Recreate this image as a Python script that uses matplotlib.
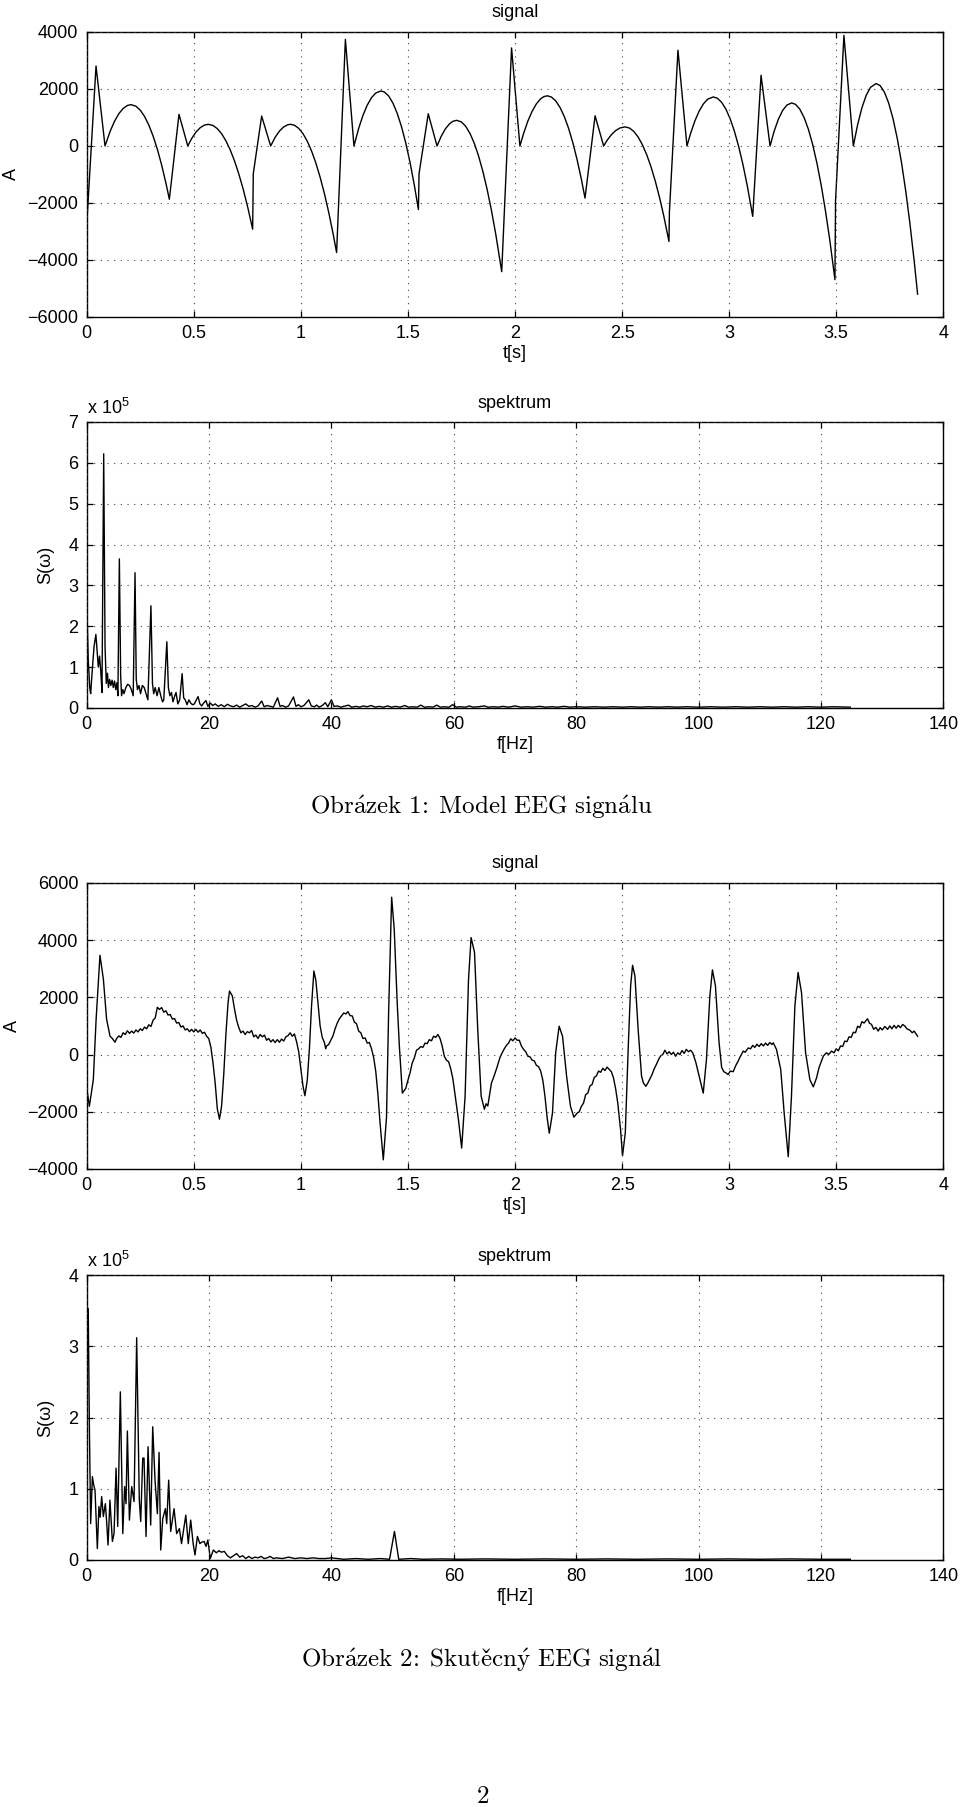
import numpy as np
import matplotlib
matplotlib.use('Agg')
import matplotlib.pyplot as plt

plt.rcParams['font.family'] = ['Liberation Sans', 'DejaVu Sans']
plt.rcParams['mathtext.fontset'] = 'custom'
plt.rcParams['mathtext.rm'] = 'Liberation Sans'
plt.rcParams['font.size'] = 13

# ---- model EEG signal: (t [s], A) ----
model_signal = [
    (0.000, -2780), (0.0436, 2807), (0.0856, 0),
    (0.11, 525), (0.13, 867), (0.15, 1131), (0.17, 1315), (0.19, 1422), (0.207, 1450),
    (0.23, 1395), (0.25, 1258), (0.27, 1039), (0.29, 736), (0.31, 351), (0.33, -117),
    (0.35, -668), (0.37, -1302), (0.386, -1870),
    (0.431, 1110), (0.472, 0),
    (0.49, 258), (0.51, 483), (0.53, 641), (0.55, 733), (0.568, 760),
    (0.59, 718), (0.61, 608), (0.63, 430), (0.65, 182), (0.67, -134), (0.69, -517),
    (0.71, -973), (0.73, -1494), (0.75, -2085), (0.775, -2920), (0.778, -970),
    (0.817, 1050), (0.859, 0),
    (0.88, 305), (0.90, 522), (0.92, 670), (0.94, 747), (0.952, 760),
    (0.97, 728), (0.99, 619), (1.01, 432), (1.03, 168), (1.05, -175), (1.07, -595),
    (1.09, -1094), (1.11, -1670), (1.13, -2324), (1.15, -3056), (1.167, -3740),
    (1.208, 3740), (1.248, 0),
    (1.27, 615), (1.29, 1073), (1.31, 1432), (1.33, 1695), (1.35, 1860), (1.374, 1930),
    (1.39, 1895), (1.41, 1754), (1.43, 1504), (1.45, 1145), (1.47, 678), (1.49, 103),
    (1.51, -583), (1.53, -1377), (1.549, -2230), (1.552, -970),
    (1.595, 1130), (1.636, 0),
    (1.655, 333), (1.675, 601), (1.695, 784), (1.71, 866), (1.728, 900),
    (1.75, 842), (1.77, 688), (1.79, 437), (1.81, 92), (1.83, -353), (1.85, -892),
    (1.87, -1528), (1.89, -2260), (1.91, -3088), (1.938, -4410),
    (1.984, 3440), (2.023, 0),
    (2.04, 436), (2.06, 871), (2.08, 1218), (2.10, 1480), (2.12, 1657), (2.135, 1733),
    (2.151, 1760), (2.17, 1718), (2.19, 1584), (2.21, 1356), (2.23, 1037), (2.25, 624),
    (2.27, 119), (2.29, -480), (2.31, -1170), (2.327, -1830),
    (2.374, 1060), (2.414, 0),
    (2.43, 197), (2.45, 395), (2.47, 540), (2.49, 631), (2.514, 670),
    (2.535, 628), (2.555, 509), (2.575, 314), (2.595, 42), (2.615, -306), (2.635, -729),
    (2.655, -1232), (2.675, -1810), (2.695, -2465), (2.719, -3350), (2.721, -2330),
    (2.761, 3360), (2.803, 0),
    (2.82, 442), (2.84, 879), (2.86, 1225), (2.88, 1479), (2.90, 1643), (2.926, 1720),
    (2.945, 1675), (2.965, 1532), (2.985, 1289), (3.005, 948), (3.025, 507), (3.045, -33),
    (3.065, -671), (3.085, -1410), (3.110, -2470),
    (3.149, 2480), (3.191, 0),
    (3.21, 515), (3.23, 941), (3.25, 1249), (3.27, 1438), (3.292, 1510),
    (3.31, 1461), (3.33, 1291), (3.35, 999), (3.37, 586), (3.39, 53), (3.41, -604),
    (3.43, -1385), (3.45, -2284), (3.47, -3304), (3.494, -4690), (3.497, -1900),
    (3.536, 3880), (3.580, 0),
    (3.60, 749), (3.62, 1340), (3.64, 1778), (3.66, 2058), (3.686, 2190),
    (3.705, 2119), (3.725, 1891), (3.745, 1506), (3.765, 965), (3.785, 266), (3.805, -589),
    (3.825, -1600), (3.845, -2776), (3.865, -4100), (3.880, -5200),
]

# ---- model spectrum: (f [Hz], S in 1e5) ----
model_spectrum = [
    (0.0, 2.64), (0.25, 1.2), (0.5, 0.5), (0.65, 0.35), (0.9, 0.9), (1.2, 1.5), (1.5, 1.8),
    (1.75, 1.3), (1.9, 1.0), (2.1, 1.27), (2.3, 0.9), (2.5, 0.38), (2.78, 6.22), (3.0, 1.5),
    (3.2, 0.6), (3.4, 0.85), (3.55, 0.5), (3.75, 0.7), (3.95, 0.55), (4.15, 0.68), (4.35, 0.5),
    (4.55, 0.66), (4.75, 0.45), (4.95, 0.62), (5.1, 0.3), (5.34, 3.65), (5.55, 0.8), (5.7, 0.3),
    (5.9, 0.45), (6.1, 0.35), (6.4, 0.5), (6.7, 0.58), (7.0, 0.55), (7.3, 0.45), (7.6, 0.3),
    (7.9, 3.31), (8.1, 0.7), (8.3, 0.45), (8.55, 0.55), (8.8, 0.35), (9.1, 0.55), (9.4, 0.5),
    (9.7, 0.35), (10.0, 0.2), (10.5, 2.5), (10.75, 0.6), (10.95, 0.35), (11.2, 0.5), (11.5, 0.3),
    (11.8, 0.5), (12.1, 0.3), (12.4, 0.15), (12.6, 0.2), (13.1, 1.62), (13.35, 0.5), (13.6, 0.3),
    (13.85, 0.38), (14.1, 0.15), (14.4, 0.3), (14.6, 0.38), (14.9, 0.1), (15.2, 0.2), (15.6, 0.84),
    (15.85, 0.25), (16.1, 0.2), (16.4, 0.08), (16.7, 0.2), (17.0, 0.12), (17.3, 0.08), (17.6, 0.1),
    (18.2, 0.28), (18.5, 0.1), (18.8, 0.05), (19.1, 0.12), (19.5, 0.18), (19.8, 0.04), (20.2, 0.12),
    (20.6, 0.06), (21.0, 0.1), (21.5, 0.04), (22.0, 0.08), (22.5, 0.03), (23.0, 0.09), (23.5, 0.05),
    (24.0, 0.03), (24.5, 0.07), (25.0, 0.02), (25.5, 0.06), (26.0, 0.1), (26.5, 0.04), (27.0, 0.06),
    (27.5, 0.02), (28.0, 0.05), (28.6, 0.17), (29.0, 0.03), (29.5, 0.06), (30.0, 0.04), (30.5, 0.02),
    (31.2, 0.25), (31.6, 0.04), (32.0, 0.06), (32.5, 0.02), (33.0, 0.05), (33.8, 0.27), (34.2, 0.04),
    (34.6, 0.08), (35.0, 0.03), (35.5, 0.06), (36.3, 0.2), (36.7, 0.05), (37.2, 0.03), (37.6, 0.07),
    (38.0, 0.02), (38.5, 0.06), (39.0, 0.13), (39.4, 0.03), (40.0, 0.2), (40.4, 0.04), (41.0, 0.05),
    (41.5, 0.02), (42.0, 0.04), (42.8, 0.07), (43.3, 0.02), (44.0, 0.04), (44.6, 0.02), (45.2, 0.05),
    (45.8, 0.03), (46.5, 0.06), (47.2, 0.02), (47.8, 0.04), (48.5, 0.02), (49.2, 0.05), (49.8, 0.02),
    (50.5, 0.04), (51.2, 0.02), (52.0, 0.06), (52.6, 0.02), (53.3, 0.03), (54.0, 0.02), (54.6, 0.07),
    (55.2, 0.02), (56.0, 0.03), (56.6, 0.02), (57.2, 0.07), (57.8, 0.02), (58.5, 0.03), (59.2, 0.02),
    (59.8, 0.08), (60.4, 0.02), (61.0, 0.03), (62.0, 0.02), (62.5, 0.05), (63.2, 0.02), (64.0, 0.03),
    (65.0, 0.05), (65.6, 0.02), (66.5, 0.03), (67.3, 0.02), (68.0, 0.04), (69.0, 0.02), (70.0, 0.05),
    (71.0, 0.02), (72.0, 0.03), (73.0, 0.02), (74.0, 0.04), (75.0, 0.02), (76.0, 0.03), (77.0, 0.02),
    (78.0, 0.04), (79.0, 0.02), (80.0, 0.03), (81.5, 0.02), (83.0, 0.03), (84.5, 0.02), (86.0, 0.03),
    (87.5, 0.02), (89.0, 0.03), (90.5, 0.02), (92.0, 0.03), (93.5, 0.02), (95.0, 0.03), (96.5, 0.02),
    (98.0, 0.03), (100.0, 0.02), (102.0, 0.03), (104.0, 0.02), (106.0, 0.03), (108.0, 0.02),
    (110.0, 0.03), (112.0, 0.02), (114.0, 0.03), (116.0, 0.02), (118.0, 0.03), (120.0, 0.02),
    (122.0, 0.03), (124.8, 0.02),
]

# ---- real EEG signal: (t [s], A) ----
real_signal = [
    (0.000, -1170), (0.0125, -1810), (0.031, -880), (0.044, 1230), (0.062, 3470), (0.078, 2630),
    (0.093, 1230), (0.109, 640), (0.120, 560), (0.132, 430),
    (0.14, 560), (0.15, 650), (0.16, 600), (0.17, 760), (0.18, 700), (0.19, 830), (0.20, 740),
    (0.21, 820), (0.22, 750), (0.23, 860), (0.24, 790), (0.25, 900), (0.26, 840), (0.27, 960),
    (0.28, 900), (0.29, 1040), (0.30, 980), (0.31, 1200), (0.32, 1280), (0.33, 1650), (0.34, 1580),
    (0.35, 1640), (0.36, 1480), (0.37, 1530), (0.38, 1380), (0.39, 1400), (0.40, 1240), (0.41, 1260),
    (0.42, 1100), (0.43, 1120), (0.44, 960), (0.45, 1000), (0.46, 860), (0.47, 900), (0.48, 800),
    (0.49, 880), (0.50, 790), (0.51, 880), (0.52, 780), (0.53, 860), (0.54, 740), (0.55, 780),
    (0.56, 640), (0.57, 560), (0.58, 250), (0.59, -300), (0.60, -1000), (0.61, -1900), (0.62, -2260),
    (0.63, -1800), (0.64, -700), (0.65, 700), (0.66, 1800), (0.667, 2220), (0.68, 2050), (0.69, 1600),
    (0.70, 1200), (0.71, 950), (0.72, 760), (0.73, 820), (0.74, 700), (0.75, 800), (0.76, 760),
    (0.77, 840), (0.78, 620), (0.79, 680), (0.80, 560), (0.81, 700), (0.82, 620), (0.83, 680),
    (0.84, 500), (0.85, 560), (0.86, 440), (0.87, 520), (0.88, 420), (0.89, 520), (0.90, 430),
    (0.91, 540), (0.92, 470), (0.93, 620), (0.94, 660), (0.95, 760), (0.96, 640), (0.97, 720),
    (0.98, 450), (0.99, 100), (1.00, -500), (1.01, -1100), (1.019, -1440), (1.03, -900), (1.04, 200),
    (1.05, 1700), (1.061, 2920), (1.07, 2600), (1.08, 1800), (1.09, 1000), (1.10, 600), (1.11, 420),
    (1.116, 200), (1.12, 300), (1.13, 350), (1.14, 500), (1.15, 650), (1.16, 900), (1.17, 1100),
    (1.18, 1250), (1.19, 1350), (1.20, 1450), (1.21, 1420), (1.22, 1500), (1.23, 1360), (1.24, 1350),
    (1.25, 1130), (1.26, 1080), (1.27, 820), (1.28, 760), (1.29, 560), (1.30, 580), (1.31, 400),
    (1.32, 420), (1.33, 200), (1.34, -100), (1.35, -600), (1.36, -1400), (1.37, -2400),
    (1.385, -3680), (1.40, -2200), (1.41, 1500), (1.424, 5500), (1.436, 4390), (1.45, 1800),
    (1.46, 300), (1.474, -1350), (1.49, -1180), (1.50, -900), (1.51, -640), (1.52, -300),
    (1.53, -120), (1.54, 150), (1.55, 200), (1.56, 280), (1.57, 250), (1.58, 400), (1.59, 380),
    (1.60, 520), (1.61, 480), (1.62, 640), (1.63, 600), (1.64, 700), (1.65, 560), (1.66, 300),
    (1.67, -60), (1.68, -200), (1.69, -250), (1.70, -500), (1.71, -850), (1.72, -1400),
    (1.736, -2280), (1.751, -3270), (1.767, -1460), (1.783, 2630), (1.795, 4090), (1.811, 3570),
    (1.826, 880), (1.842, -1460), (1.857, -1910), (1.865, -1720), (1.873, -1800), (1.89, -1000),
    (1.90, -800), (1.915, -470), (1.93, -100), (1.94, 60), (1.95, 200), (1.96, 320), (1.97, 400),
    (1.98, 550), (1.99, 480), (2.00, 580), (2.01, 500), (2.02, 500), (2.03, 300), (2.04, 180),
    (2.05, 100), (2.06, -60), (2.07, -80), (2.08, -200), (2.09, -220), (2.10, -380), (2.11, -420),
    (2.12, -580), (2.13, -900), (2.14, -1460), (2.15, -2200), (2.16, -2750), (2.175, -2050),
    (2.19, 60), (2.206, 990), (2.222, 640), (2.241, -760), (2.259, -1810), (2.275, -2190),
    (2.29, -2050), (2.30, -2000), (2.31, -1810), (2.32, -1700), (2.33, -1400), (2.34, -1350),
    (2.35, -1100), (2.36, -1050), (2.37, -800), (2.38, -750), (2.39, -580), (2.40, -620),
    (2.41, -480), (2.42, -560), (2.43, -440), (2.44, -520), (2.45, -600), (2.46, -820),
    (2.47, -1200), (2.48, -1700), (2.493, -2630), (2.502, -3540), (2.515, -2750), (2.529, 290),
    (2.540, 2400), (2.549, 3120), (2.560, 2750), (2.575, 880), (2.591, -760), (2.60, -1000),
    (2.611, -1110), (2.62, -1000), (2.63, -850), (2.64, -700), (2.65, -500), (2.66, -350),
    (2.67, -180), (2.68, -50), (2.69, 0), (2.70, 150), (2.71, 20), (2.72, 100), (2.73, 0),
    (2.74, 80), (2.75, -60), (2.76, 60), (2.77, 0), (2.78, 140), (2.79, 40), (2.80, 180),
    (2.81, 100), (2.82, 150), (2.83, 60), (2.845, -290), (2.864, -880), (2.879, -1350),
    (2.894, -180), (2.910, 2050), (2.922, 2960), (2.936, 2400), (2.953, 410), (2.965, -450),
    (2.975, -600), (2.985, -640), (2.995, -700), (3.005, -580), (3.019, -600), (3.03, -400),
    (3.042, -230), (3.05, -100), (3.066, 120), (3.075, 80), (3.089, 230), (3.10, 200), (3.11, 320),
    (3.12, 250), (3.13, 360), (3.14, 280), (3.15, 380), (3.16, 300), (3.17, 400), (3.18, 320),
    (3.19, 420), (3.20, 350), (3.206, 410), (3.221, 180), (3.241, -530), (3.257, -2050),
    (3.276, -3570), (3.291, -1460), (3.307, 1700), (3.322, 2870), (3.338, 2160), (3.357, 60),
    (3.377, -880), (3.393, -1130), (3.408, -820), (3.42, -450), (3.431, -230), (3.44, -50),
    (3.455, 60), (3.465, 0), (3.478, 120), (3.49, 60), (3.50, 200), (3.51, 130), (3.52, 300),
    (3.53, 280), (3.54, 470), (3.55, 450), (3.56, 620), (3.57, 600), (3.58, 780), (3.59, 760),
    (3.60, 990), (3.61, 940), (3.62, 1150), (3.63, 1100), (3.646, 1250), (3.655, 1100),
    (3.665, 1050), (3.675, 880), (3.685, 950), (3.696, 820), (3.705, 940), (3.715, 860),
    (3.727, 980), (3.74, 880), (3.75, 1000), (3.76, 900), (3.77, 1020), (3.78, 920), (3.79, 1020),
    (3.80, 940), (3.81, 1050), (3.82, 1000), (3.83, 900), (3.844, 850), (3.855, 760),
    (3.864, 820), (3.88, 640),
]

# ---- real spectrum: (f [Hz], S in 1e5) ----
real_spectrum = [
    (0.0, 2.6), (0.25, 3.53), (0.45, 1.8), (0.65, 0.51), (0.93, 1.17), (1.15, 1.05), (1.36, 0.98),
    (1.74, 0.16), (2.0, 0.75), (2.2, 0.6), (2.45, 0.89), (2.72, 0.61), (3.05, 0.79), (3.25, 0.55),
    (3.49, 0.21), (3.8, 0.84), (4.2, 0.26), (4.47, 0.37), (4.8, 1.29), (5.07, 0.47), (5.5, 2.36),
    (5.9, 0.37), (6.2, 1.03), (6.43, 0.79), (6.65, 1.81), (6.98, 0.56), (7.36, 1.03), (7.74, 0.82),
    (8.17, 3.12), (8.6, 0.84), (8.83, 0.54), (9.16, 1.43), (9.37, 1.43), (9.7, 0.33), (10.03, 1.59),
    (10.46, 0.49), (10.79, 1.87), (11.17, 1.12), (11.55, 0.65), (11.83, 1.51), (12.1, 0.14),
    (12.43, 0.58), (12.86, 0.72), (13.08, 0.51), (13.4, 1.12), (13.73, 0.4), (14.28, 0.72),
    (14.7, 0.37), (15.15, 0.44), (15.5, 0.23), (16.2, 0.63), (16.6, 0.23), (17.0, 0.56),
    (17.4, 0.23), (17.7, 0.07), (18.1, 0.33), (18.5, 0.23), (18.8, 0.25), (19.2, 0.26),
    (19.5, 0.19), (19.8, 0.28), (20.2, 0.02), (20.7, 0.14), (21.2, 0.1), (21.6, 0.13), (22.0, 0.11),
    (22.5, 0.12), (23.0, 0.06), (23.5, 0.03), (24.0, 0.06), (24.5, 0.09), (25.0, 0.04), (25.5, 0.06),
    (26.0, 0.02), (26.5, 0.05), (27.0, 0.02), (27.5, 0.04), (28.0, 0.03), (28.5, 0.05), (29.0, 0.02),
    (29.5, 0.03), (30.0, 0.05), (30.5, 0.02), (31.0, 0.03), (32.0, 0.02), (33.0, 0.04), (34.0, 0.02),
    (35.0, 0.03), (36.0, 0.02), (37.0, 0.03), (38.0, 0.02), (39.0, 0.02), (40.0, 0.03), (42.0, 0.01),
    (44.0, 0.02), (46.0, 0.01), (48.0, 0.02), (49.5, 0.01), (50.3, 0.4), (51.0, 0.01), (53.0, 0.02),
    (55.0, 0.01), (58.0, 0.015), (61.0, 0.01), (65.0, 0.015), (70.0, 0.01), (75.0, 0.015),
    (80.0, 0.01), (85.0, 0.015), (90.0, 0.01), (95.0, 0.015), (100.0, 0.01), (105.0, 0.015),
    (110.0, 0.01), (115.0, 0.015), (120.0, 0.01), (124.8, 0.01),
]

t_ticks = [0, 0.5, 1, 1.5, 2, 2.5, 3, 3.5, 4]
f_ticks = [0, 20, 40, 60, 80, 100, 120, 140]


def style_axes(ax):
    for s in ax.spines.values():
        s.set_linewidth(1.0)
        s.set_color('black')
    ax.tick_params(direction='in', top=True, right=True, length=4, width=0.9,
                   labelsize=13, pad=6, colors='black')
    ax.grid(True, color='#444444', linestyle=(0, (1, 5)), linewidth=0.8)
    ax.set_axisbelow(False)


def signal_plot(ax, data, ylim, yticks):
    d = np.array(data)
    ax.plot(d[:, 0], d[:, 1], color='black', lw=1.0)
    ax.set_xlim(0, 4)
    ax.set_ylim(*ylim)
    ax.set_xticks(t_ticks)
    ax.set_xticklabels(['0', '0.5', '1', '1.5', '2', '2.5', '3', '3.5', '4'])
    ax.set_yticks(yticks)
    ax.set_yticklabels([str(v).replace('-', '\u2212') for v in yticks])
    ax.set_title('signal', fontsize=13, pad=11)
    ax.set_xlabel('t[s]', fontsize=13, labelpad=2)
    ax.set_ylabel('A', fontsize=13, labelpad=5)
    style_axes(ax)


def spectrum_plot(ax, data, ymax):
    d = np.array(data)
    ax.plot(d[:, 0], d[:, 1], color='black', lw=1.0)
    ax.set_xlim(0, 140)
    ax.set_ylim(0, ymax)
    ax.set_xticks(f_ticks)
    ax.set_yticks(range(0, ymax + 1))
    ax.set_title('spektrum', fontsize=13, pad=10)
    ax.set_xlabel('f[Hz]', fontsize=13, labelpad=2)
    ax.set_ylabel('S(\u03c9)', fontsize=13, labelpad=10)
    ax.text(0.0, 1.015, 'x 10$^5$', transform=ax.transAxes, fontsize=13,
            ha='left', va='bottom')
    style_axes(ax)


fig = plt.figure(figsize=(9.6, 18.07), dpi=100)
left, width = 0.0903, 0.8923
ax1 = fig.add_axes([left, 0.8246, width, 0.1577])
ax2 = fig.add_axes([left, 0.6082, width, 0.1583])
ax3 = fig.add_axes([left, 0.3531, width, 0.1583])
ax4 = fig.add_axes([left, 0.1367, width, 0.1577])

signal_plot(ax1, model_signal, (-6000, 4000), [-6000, -4000, -2000, 0, 2000, 4000])
spectrum_plot(ax2, model_spectrum, 7)
signal_plot(ax3, real_signal, (-4000, 6000), [-4000, -2000, 0, 2000, 4000, 6000])
spectrum_plot(ax4, real_spectrum, 4)

cap1 = r'$\mathrm{Obr\acute{a}zek\ 1\!:\;Model\ EEG\ sign\acute{a}lu}$'
cap2 = r'$\mathrm{Obr\acute{a}zek\ 2\!:\;Skute\check{c}n\acute{y}\ EEG\ sign\acute{a}l}$'
fig.text(0.501, 0.5534, cap1, ha='center', va='center', fontsize=18, math_fontfamily='cm')
fig.text(0.502, 0.0813, cap2, ha='center', va='center', fontsize=18, math_fontfamily='cm')
fig.text(0.503, 0.006, r'$\mathrm{2}$', ha='center', va='center', fontsize=18,
         math_fontfamily='cm')

fig.savefig('out.png', dpi=100)
